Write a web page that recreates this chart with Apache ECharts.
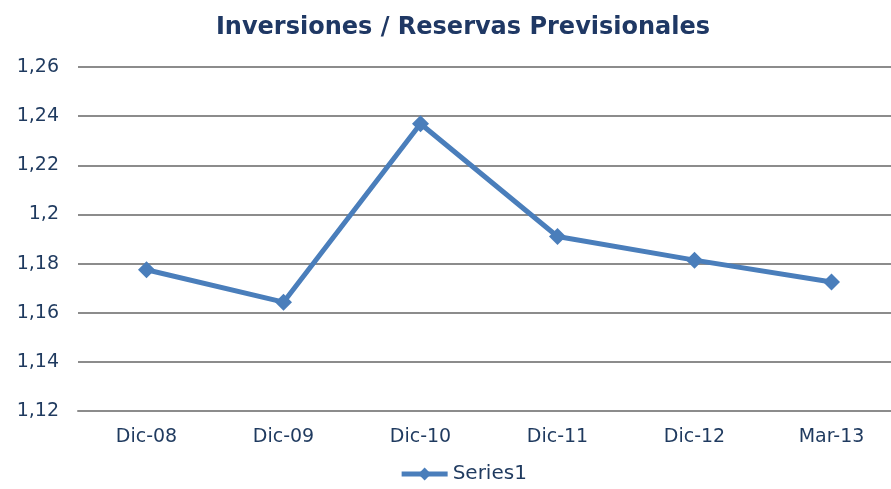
<!DOCTYPE html>
<html>
<head>
<meta charset="utf-8">
<script src="https://cdn.jsdelivr.net/npm/echarts@6/dist/echarts.min.js"></script>
<style>
  html, body { margin: 0; padding: 0; background: #fff; overflow: hidden; }
  #main { width: 926px; height: 489px; }
</style>
</head>
<body>
<div id="main"></div>
<script>
var categories = ['Dic-08', 'Dic-09', 'Dic-10', 'Dic-11', 'Dic-12', 'Mar-13'];
var series1 = [1.1775, 1.1643, 1.2369, 1.1910, 1.1814, 1.1725];
var yTicks = { min: 1.12, max: 1.26, interval: 0.02 };

var textColor = '#1F3A5F';
var lineColor = '#4A7EBB';

// the original chart is slightly wider than the picture, its right edge is cut off
var myChart = echarts.init(document.getElementById('main'));
var option = {
    animation: false,
    title: {
        text: 'Inversiones / Reservas Previsionales',
        left: 'center',
        top: 11,
        textStyle: {
            fontFamily: 'DejaVu Sans',
            fontWeight: 'bold',
            fontSize: 24,
            color: '#1F3864'
        }
    },
    legend: {
        bottom: 0,
        left: 'center',
        itemWidth: 46,
        itemHeight: 16,
        itemGap: 6,
        data: ['Series1'],
        lineStyle: { width: 5 },
        textStyle: { fontFamily: 'DejaVu Sans', fontSize: 20, color: textColor }
    },
    grid: { left: 78, right: 26, top: 67, bottom: 78 },
    xAxis: {
        type: 'category',
        data: categories,
        axisLine: { lineStyle: { color: '#8C8C8C', width: 2 } },
        axisTick: { show: false },
        axisLabel: {
            margin: 17,
            fontFamily: 'DejaVu Sans',
            fontSize: 19,
            color: textColor
        }
    },
    yAxis: {
        type: 'value',
        min: yTicks.min,
        max: yTicks.max,
        interval: yTicks.interval,
        axisLine: { show: false },
        axisTick: { show: false },
        splitLine: { lineStyle: { color: '#8C8C8C', width: 2 } },
        axisLabel: {
            margin: 19,
            fontFamily: 'DejaVu Sans',
            fontSize: 19,
            color: textColor,
            formatter: function (v) {
                return String(+v.toFixed(2)).replace('.', ',');
            }
        }
    },
    series: [{
        name: 'Series1',
        type: 'line',
        data: series1,
        symbol: 'diamond',
        symbolSize: 17,
        lineStyle: { color: lineColor, width: 5 },
        itemStyle: { color: lineColor }
    }]
};
myChart.setOption(option);
</script>
</body>
</html>
